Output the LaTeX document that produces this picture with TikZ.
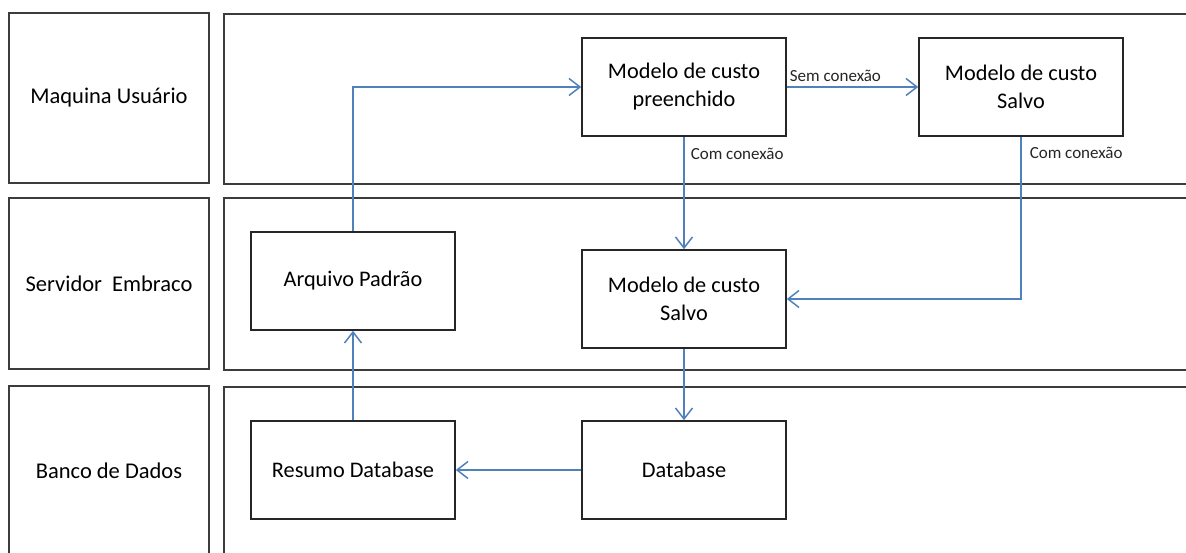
\documentclass[tikz,border=0pt]{standalone}
\usepackage{fontspec}
\setmainfont{Carlito}
\usetikzlibrary{arrows.meta}
\definecolor{conn}{RGB}{79,129,189}
\definecolor{frame}{RGB}{60,60,60}
\begin{document}
\begin{tikzpicture}[x=1pt,y=-1pt,
  lanebox/.style={draw=frame,line width=1.8pt,fill=white},
  lanelabel/.style={draw=frame,line width=1.8pt,minimum width=200pt,inner sep=0pt,font=\fontsize{22.5}{27}\selectfont},
  procbox/.style={draw=black!85,line width=1.6pt,fill=white,minimum width=204pt,minimum height=98pt,inner sep=0pt,align=center,font=\fontsize{22.3}{28}\selectfont},
  conn/.style={draw=conn,line width=1.5pt,-{Straight Barb[length=11pt,width=17pt,line width=1.5pt]}},
  connlabel/.style={font=\fontsize{17}{20}\selectfont,inner sep=0pt,text=black!85}
]
\clip (0,0) rectangle (1186,553);
\fill[white] (0,0) rectangle (1186,553);
% lanes
\node[lanelabel,minimum height=170pt] (l1) at (109,98) {Maquina Usuário};
\node[lanelabel,minimum height=171pt] (l2) at (109,283.5) {Servidor\ \ Embraco};
\node[lanelabel,minimum height=170pt] (l3) at (109,471) {Banco de Dados};
\draw[lanebox] (224,14) rectangle (1200,184);
\draw[lanebox] (224,198) rectangle (1200,370);
\draw[lanebox] (224,387) rectangle (1200,570);
% process boxes
\node[procbox] (pre) at (684,87) {Modelo de custo\\preenchido};
\node[procbox] (salvoT) at (1021,87) {Modelo de custo\\Salvo};
\node[procbox] (arq) at (353,281) {Arquivo Padrão};
\node[procbox] (salvoM) at (684,299) {Modelo de custo\\Salvo};
\node[procbox] (resumo) at (353,470) {Resumo Database};
\node[procbox] (db) at (684,470) {Database};
% connectors
\draw[conn] (arq.north) |- (pre.west);
\draw[conn] (pre.east) -- node[connlabel,above=5pt,pos=0.37] (lsem) {Sem conexão} (salvoT.west);
\draw[conn] (pre.south) -- node[connlabel,right=6pt,pos=0.15] (lcom1) {Com conexão} (salvoM.north);
\draw[conn] (salvoT.south) |- node[connlabel,right=8pt,pos=0.05] (lcom2) {Com conexão} (salvoM.east);
\draw[conn] (salvoM.south) -- (db.north);
\draw[conn] (db.west) -- (resumo.east);
\draw[conn] (resumo.north) -- (arq.south);
\end{tikzpicture}
\end{document}
